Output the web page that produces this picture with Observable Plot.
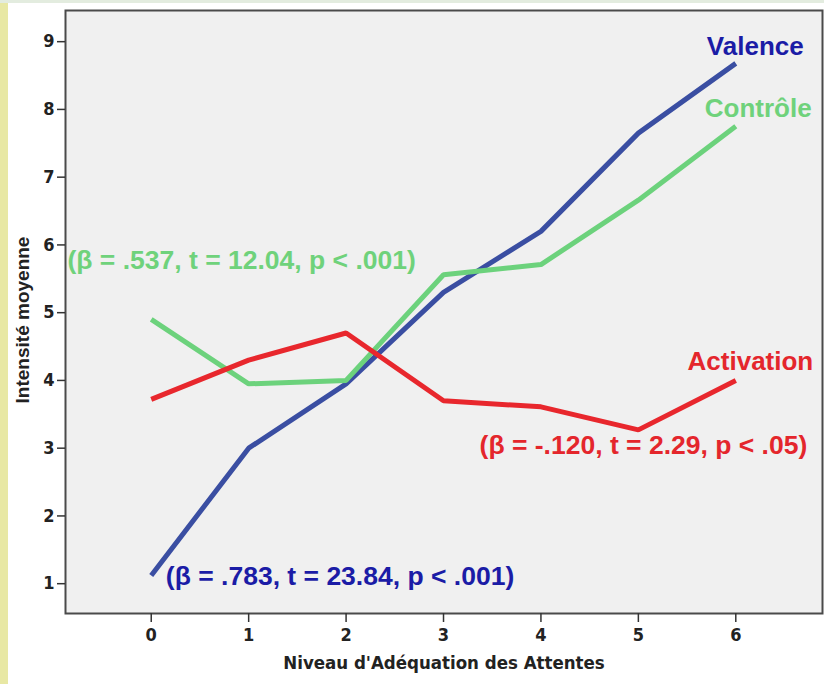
<!DOCTYPE html>
<html>
<head>
<meta charset="utf-8">
<script src="https://cdn.jsdelivr.net/npm/d3@7"></script>
<script src="https://cdn.jsdelivr.net/npm/@observablehq/plot@0.6"></script>
<style>
  html, body { margin: 0; padding: 0; }
  body {
    width: 824px; height: 684px; overflow: hidden;
    background:
      linear-gradient(to bottom, #e3ecdf 0 3px, transparent 3px),
      linear-gradient(to right, #e8e8a4 0 8px, #ffffff 8px);
  }
  #chart svg { display: block; }
</style>
</head>
<body>
<div id="chart"></div>
<script>
// Data
const levels = [0, 1, 2, 3, 4, 5, 6];
const valence = [1.12, 3.0, 3.95, 5.3, 6.2, 7.65, 8.68];
const controle = [4.9, 3.95, 4.0, 5.56, 5.71, 6.66, 7.75];
const activation = [3.72, 4.3, 4.7, 3.7, 3.61, 3.27, 4.0];
const seriesNames = ["Valence", "Contrôle", "Activation"];
const statsLabels = [
  "(β = .783, t = 23.84, p < .001)",
  "(β = .537, t = 12.04, p < .001)",
  "(β = -.120, t = 2.29, p < .05)"
];
const yTicks = [1, 2, 3, 4, 5, 6, 7, 8, 9];
const xTicks = [0, 1, 2, 3, 4, 5, 6];
const xTitle = "Niveau d'Adéquation des Attentes";
const yTitle = "Intensité moyenne";

const lineColors = {"Valence": "#3a4ea2", "Contrôle": "#6cd27c", "Activation": "#e8272d"};
const textColors = {"Valence": "#1b1ca6", "Contrôle": "#6fd27b", "Activation": "#e4262c"};

const rows = [];
[valence, controle, activation].forEach((vals, i) => {
  levels.forEach((lv, j) => rows.push({series: seriesNames[i], x: lv, y: vals[j]}));
});

// annotation placement (data units)
const nameLabels = [
  {series: "Valence", text: seriesNames[0], x: 6.2, y: 8.93},
  {series: "Contrôle", text: seriesNames[1], x: 6.23, y: 8.01},
  {series: "Activation", text: seriesNames[2], x: 6.15, y: 4.28}
];
const statLabels = [
  {series: "Valence", text: statsLabels[0], x: 0.15, y: 1.1},
  {series: "Contrôle", text: statsLabels[1], x: -0.86, y: 5.77},
  {series: "Activation", text: statsLabels[2], x: 3.37, y: 3.04}
];

const narrow = "'Liberation Sans Narrow', 'DejaVu Sans Condensed', Arial, sans-serif";
const sans = "'Liberation Sans', Arial, sans-serif";

const chart = Plot.plot({
  width: 824,
  height: 684,
  marginLeft: 65,
  marginRight: 2,
  marginTop: 10,
  marginBottom: 71,
  style: {background: "transparent", fontFamily: sans, overflow: "visible"},
  x: {domain: [-0.88, 6.89]},
  y: {domain: [0.56, 9.46]},
  marks: [
    Plot.frame({fill: "#f0f0f0", stroke: null}),
    Plot.line(rows, {
      x: "x", y: "y", z: "series",
      stroke: d => lineColors[d.series],
      strokeWidth: 5, strokeLinejoin: "miter", strokeLinecap: "butt"
    }),
    Plot.frame({stroke: "#4a4a4a", strokeWidth: 2}),
    Plot.axisY(yTicks, {
      tickSize: 8, tickPadding: 3, stroke: "#333", strokeWidth: 1.5,
      tickFormat: "d",
      fontSize: 18, fontWeight: "bold", fontFamily: narrow, fill: "#222",
      label: null
    }),
    Plot.axisX(xTicks, {
      tickSize: 9, tickPadding: 6, stroke: "#333", strokeWidth: 1.5,
      tickFormat: "d",
      fontSize: 18, fontWeight: "bold", fontFamily: narrow, fill: "#222",
      label: null
    }),
    Plot.text([xTitle], {
      frameAnchor: "bottom", dy: 55, fontSize: 18.5, fontWeight: "bold",
      fontFamily: narrow, fill: "#222"
    }),
    Plot.text([yTitle], {
      frameAnchor: "left", dx: -43, dy: 8, rotate: -90, textAnchor: "middle",
      fontSize: 19, fontWeight: "bold", fontFamily: sans, fill: "#222"
    }),
    Plot.text(nameLabels, {
      x: "x", y: "y", text: "text", fill: d => textColors[d.series],
      fontSize: 26, fontWeight: "bold", textAnchor: "middle", fontFamily: sans
    }),
    Plot.text(statLabels, {
      x: "x", y: "y", text: "text", fill: d => textColors[d.series],
      fontSize: 26.5, fontWeight: "bold", textAnchor: "start", fontFamily: sans
    })
  ]
});
document.getElementById("chart").appendChild(chart);
</script>
</body>
</html>
